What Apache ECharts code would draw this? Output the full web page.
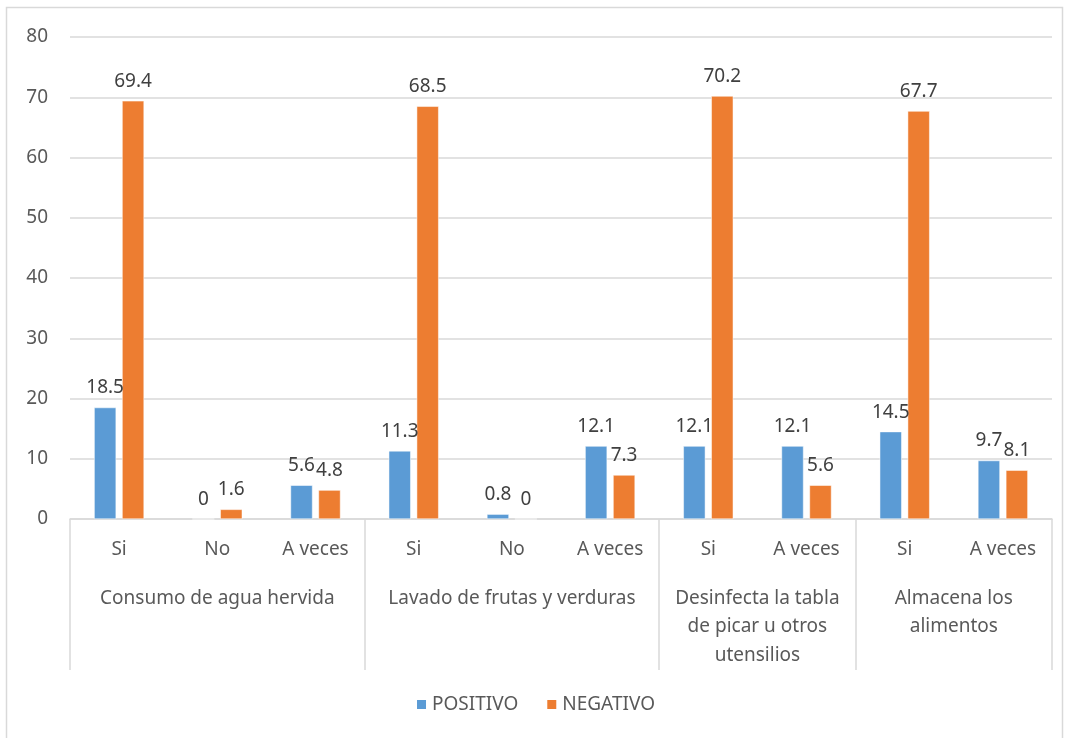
<!DOCTYPE html>
<html>
<head>
<meta charset="utf-8">
<script src="https://cdn.jsdelivr.net/npm/echarts@6/dist/echarts.min.js"></script>
<style>
  html, body { margin: 0; padding: 0; background: #fff; }
  #chart { width: 1070px; height: 738px; }
</style>
</head>
<body>
<div id="chart"></div>
<script>
var dom = document.getElementById("chart");
var myChart = echarts.init(dom);
var option;

// subcategorias (eje inferior, nivel 1)
var subLabels = ['Si', 'No', 'A veces', 'Si', 'No', 'A veces', 'Si', 'A veces', 'Si', 'A veces'];
// grupos (nivel 2) y cuantas subcategorias ocupa cada uno
var groupLabels = ['Consumo de agua hervida', 'Lavado de frutas y verduras', 'Desinfecta la tabla\nde picar u otros\nutensilios', 'Almacena los\nalimentos'];
var groupSizes = [3, 3, 2, 2];

var positivo = [18.5, 0, 5.6, 11.3, 0.8, 12.1, 12.1, 12.1, 14.5, 9.7];
var negativo = [69.4, 1.6, 4.8, 68.5, 0, 7.3, 70.2, 5.6, 67.7, 8.1];

var fontFam = 'Noto Sans';
var textColor = '#595959';
var lineColor = '#d9d9d9';

// eje de grupos: medio-pasos (boundaryGap false), separadores en los bordes
var halfSlots = [];
var sepIdx = [0];
var pos = 0;
for (var i = 0; i <= subLabels.length * 2; i++) halfSlots.push('');
groupSizes.forEach(function (n, gi) {
    halfSlots[pos * 2 + n] = groupLabels[gi];
    pos += n;
    sepIdx.push(pos * 2);
});

function barLabel() {
    return {
        show: true,
        position: 'top',
        distance: 10,
        fontFamily: fontFam,
        fontSize: 19,
        color: '#404040'
    };
}

option = {
    textStyle: { fontFamily: fontFam },
    grid: { left: 70, right: 18, top: 37, bottom: 219 },
    legend: {
        bottom: 19,
        left: 'center',
        icon: 'rect',
        itemWidth: 11,
        itemHeight: 11,
        itemGap: 27,
        textStyle: { fontSize: 19, color: textColor, fontFamily: fontFam },
        data: ['POSITIVO', 'NEGATIVO']
    },
    xAxis: [{
        type: 'category',
        data: subLabels,
        axisLine: { lineStyle: { color: lineColor, width: 1.5 } },
        axisTick: { show: false },
        axisLabel: { interval: 0, margin: 21, fontSize: 19, color: textColor, fontFamily: fontFam }
    }, {
        type: 'category',
        position: 'bottom',
        boundaryGap: false,
        data: halfSlots,
        axisLine: { show: false },
        axisTick: {
            show: true,
            length: 151,
            interval: function (idx) { return sepIdx.indexOf(idx) >= 0; },
            lineStyle: { color: lineColor, width: 1.5 }
        },
        axisLabel: {
            interval: 0,
            margin: 65,
            fontSize: 19,
            lineHeight: 28.5,
            color: textColor,
            fontFamily: fontFam,
            verticalAlign: 'top'
        }
    }],
    yAxis: {
        type: 'value',
        min: 0,
        max: 80,
        interval: 10,
        axisLine: { show: false },
        axisTick: { show: false },
        axisLabel: { margin: 22, fontSize: 19, color: textColor, fontFamily: fontFam },
        splitLine: { lineStyle: { color: lineColor, width: 1.5 } }
    },
    graphic: [{
        type: 'rect',
        shape: { x: 6.5, y: 7.5, width: 1056, height: 740 },
        style: { fill: 'none', stroke: lineColor, lineWidth: 1.5 },
        silent: true
    }],
    series: [{
        name: 'POSITIVO',
        type: 'bar',
        xAxisIndex: 0,
        data: positivo,
        barWidth: 22,
        barGap: '27%',
        itemStyle: { color: '#5b9bd5', borderColor: '#fff', borderWidth: 0.5 },
        label: barLabel()
    }, {
        name: 'NEGATIVO',
        type: 'bar',
        xAxisIndex: 0,
        data: negativo,
        barWidth: 22,
        barGap: '27%',
        itemStyle: { color: '#ed7d31', borderColor: '#fff', borderWidth: 0.5 },
        label: barLabel()
    }]
};

myChart.setOption(option);
</script>
</body>
</html>
